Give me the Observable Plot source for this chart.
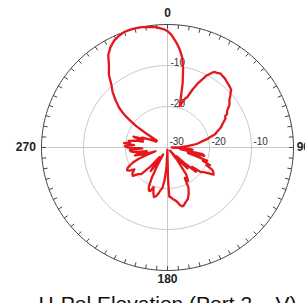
<!DOCTYPE html>
<html>
<head>
<meta charset="utf-8">
<script src="https://cdn.jsdelivr.net/npm/d3@7"></script>
<script src="https://cdn.jsdelivr.net/npm/@observablehq/plot@0.6"></script>
<style>
  html, body { margin: 0; padding: 0; background: #fff; overflow: hidden; }
  #title { font-family: "Liberation Sans", Arial, sans-serif; font-size: 21px; line-height: 24px; text-align: center; margin-top: 2px; color: #111; white-space: nowrap; width: 305px; padding-left: 30px; box-sizing: border-box; }
</style>
</head>
<body>
<div id="chart"></div>
<div id="title">H-Pol Elevation (Port 2 – V)</div>
<script>
// Pattern: angle (deg, clockwise from top) and gain (dB)
const angles = [0,2,5,7,9,11,13,15,16,17,19,21,23,25,27,28,30,31,33,35,37,39,41,44,47,50,52,55,58,60,61,63,66,69,72,74,76,78,80,83,86,
  88,90,92,95,98,101,103,105,107,109,111,113,115,117,119,121,123,125,127,129,131,133,135,137,139,141,
  143,146,149,151,153,156,159,162,164,166,168,170,172,174,176,178,179,180,181,183,
  185,187,189,191,193,195,197,199,201,203,205,207,209,211,213,215,217,219,
  221,224,227,230,233,236,238,240,242,244,246,248,250,252,
  254,256,258,260,262,264,266,268,270,272,274,276,278,280,282,284,286,288,290,292,294,296,298,300,302,303,304,305,306,307,308,310,313,316,319,322,325,328,331,334,337,340,344,348,352,355,358];
const gainDb = [-1.6,-2.5,-4.5,-6.0,-7.7,-10.5,-14,-18,-19.5,-19.0,-17.5,-16.8,-14.5,-12.6,-11,-10.1,-9.0,-8.5,-8.3,-8.0,-8.2,-8.3,-8.6,-8.9,-9.3,-10.5,-11.3,-12.0,-13.3,-13.6,-14.3,-14.5,-15.6,-16.4,-17.6,-18.2,-19.5,-20.5,-21.8,-23,-25.3,
  -27,-29,-26,-24,-27,-21.5,-21,-25,-23,-20,-21,-19,-19.8,-18,-17.5,-17.2,-18.5,-19.5,-20,-22.5,-21,-24,-27,-23,-26,-29,
  -26,-22,-20.5,-21.5,-19,-17.6,-16.5,-16.0,-15.5,-15.2,-15.6,-16.5,-17.0,-17.3,-17.8,-18,-22,-28,-29.5,-25,
  -22,-20,-19.5,-18.5,-17.8,-17.5,-18.5,-19.8,-18.6,-18.6,-19.5,-22,-25,-28,-25,-23,-26,-27,
  -24,-21,-20.5,-19.2,-19.5,-20.5,-19.3,-18.9,-19.2,-20,-21,-22.5,-25,-27,
  -24,-22,-23,-25,-22,-21.2,-21,-24,-20.5,-19.8,-22,-19.6,-21,-20.6,-22,-24,-23,-21.5,-24,-23.5,-25,-26,-27,-26.5,-25.5,-27,-24,-21,-19.5,-18.2,-16.9,-15,-13.1,-11.2,-9.6,-7.3,-5.7,-3.4,-2.0,-1.0,-0.4,0,0.1,0,-0.3,-0.6,-1.1];

const ringValues = [-20, -10];
const ringLabelValues = [-30, -20, -10];
const cardinalAngles = [0, 90, 180, 270];
const cardinalLabels = ["0", "90", "180", "270"];
const minDb = -30, maxDb = 0;

const rad = d => d * Math.PI / 180;
const rOf = db => Math.max(0, (db - minDb) / (maxDb - minDb));
const px = (a, r) => r * Math.sin(rad(a));
const py = (a, r) => r * Math.cos(rad(a));

const pattern = angles.map((a, i) => ({a, r: rOf(gainDb[i])}));
pattern.push(pattern[0]);

const circleAngles = d3.range(0, 361, 2);
const outer = circleAngles.map(a => ({a, r: 1}));
const rings = ringValues.flatMap(v => circleAngles.map(a => ({a, r: rOf(v), ring: v})));
const tickAngles = d3.range(0, 360, 5);

const hLabels = ringLabelValues.map(v => ({v, x: rOf(v) + 0.015, y: 0.02}));
const vLabels = ringValues.map(v => ({v, x: 0.024, y: rOf(v)}));

const cardPos = [
  {x: 0, y: 1.09, anchor: "middle"},
  {x: 1.025, y: 0, anchor: "start"},
  {x: 0, y: -1.07, anchor: "middle"},
  {x: -1.045, y: 0, anchor: "end"}
];
const cards = cardinalLabels.map((t, i) => ({t, ...cardPos[i]}));
const cardStyle = {x: "x", y: "y", text: "t", lineAnchor: "middle", fontSize: 12, fontWeight: "bold", fill: "#222"};

const plot = Plot.plot({
  width: 305,
  height: 290,
  margin: 0,
  x: {domain: [-1, 1], range: [41, 293], axis: null},
  y: {domain: [-1, 1], range: [270, 24], axis: null},
  style: {fontFamily: "'Liberation Sans', Arial, sans-serif", background: "#fff"},
  marks: [
    Plot.ruleY([0], {x1: -1, x2: 1, stroke: "#c8c8c8", strokeWidth: 1}),
    Plot.ruleX([0], {y1: -1, y2: 1, stroke: "#c8c8c8", strokeWidth: 1}),
    Plot.line(rings, {x: d => px(d.a, d.r), y: d => py(d.a, d.r), z: "ring", stroke: "#c8c8c8", strokeWidth: 1}),
    Plot.line(outer, {x: d => px(d.a, d.r), y: d => py(d.a, d.r), stroke: "#444", strokeWidth: 1}),
    Plot.link(tickAngles, {x1: a => px(a, 1), y1: a => py(a, 1), x2: a => px(a, 0.966), y2: a => py(a, 0.966), stroke: "#444", strokeWidth: 1}),
    Plot.text(hLabels, {x: "x", y: "y", text: d => String(d.v), textAnchor: "start", lineAnchor: "bottom", fontSize: 10, fill: "#333"}),
    Plot.text(vLabels, {x: "x", y: "y", text: d => String(d.v), textAnchor: "start", lineAnchor: "bottom", fontSize: 10, fill: "#333"}),
    Plot.text(cards.filter(d => d.anchor === "middle"), {...cardStyle, textAnchor: "middle"}),
    Plot.text(cards.filter(d => d.anchor === "start"), {...cardStyle, textAnchor: "start"}),
    Plot.text(cards.filter(d => d.anchor === "end"), {...cardStyle, textAnchor: "end"}),
    Plot.line(pattern, {x: d => px(d.a, d.r), y: d => py(d.a, d.r), stroke: "#e5161c", strokeWidth: 2.3, strokeLinejoin: "round"})
  ]
});
document.getElementById("chart").appendChild(plot);
</script>
</body>
</html>
